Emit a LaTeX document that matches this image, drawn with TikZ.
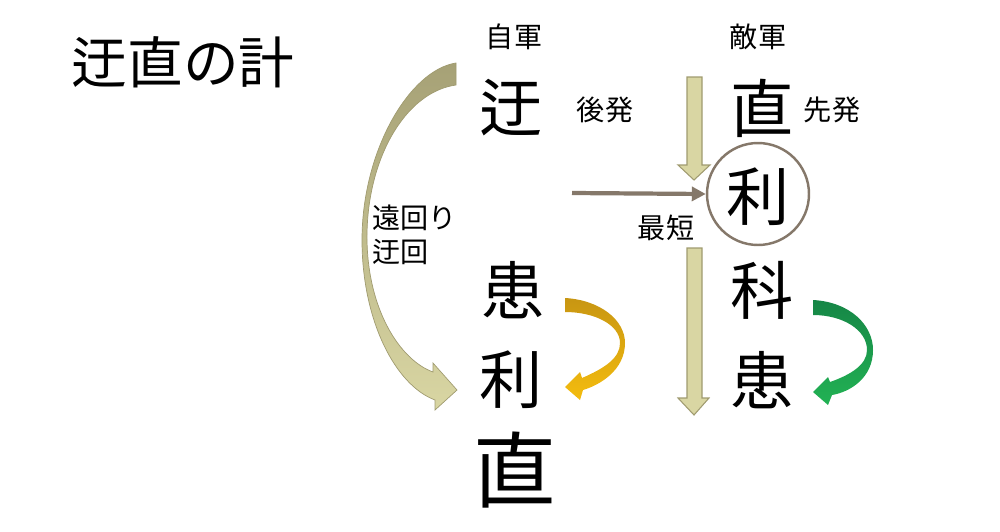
\documentclass[tikz,border=0pt]{standalone}
\usepackage{fontspec}
\setmainfont{Noto Sans CJK JP}
\usepackage{tikz}
\usetikzlibrary{positioning,arrows.meta}
\usepackage{xcolor}

\definecolor{khaki}{RGB}{217,214,163}
\definecolor{khakidark}{RGB}{160,155,112}
\definecolor{khakideep}{RGB}{166,161,118}
\definecolor{taupe}{RGB}{133,120,106}
\definecolor{goldtop}{RGB}{200,150,18}
\definecolor{goldbot}{RGB}{244,188,14}
\definecolor{greentop}{RGB}{22,134,70}
\definecolor{greenbot}{RGB}{34,178,84}

\begin{document}
\begin{tikzpicture}[
  x=0.02cm, y=-0.02cm,
  every node/.style={inner sep=0pt},
  tag/.style={font=\fontsize{16}{19.3}\selectfont},
  kanji/.style={font=\fontsize{36}{40}\selectfont},
  block/.style={fill=khaki, draw=khakidark, line width=0.6pt}
]
  \useasboundingbox (0,0) rectangle (1000,531);

  \node[font=\fontsize{31.7}{36}\selectfont] (title) at (183,62) {迂直の計};

  \node[tag]   (own)    at (514,37)  {自軍};
  \node[tag]   (enemy)  at (758,37)  {敵軍};
  \node[kanji] (own1)   at (511,108) {迂};
  \node[tag]   (late)   at (605,110) {後発};
  \node[kanji] (enemy1) at (762,108) {直};
  \node[tag]   (early)  at (832,110) {先発};
  \node[kanji] (lure)   at (758,197) {利};
  \node[circle, draw=taupe, line width=1.4pt, minimum size=2.04cm] (ring) at (758,194) {};
  \node[tag]   (short)  at (666,228) {最短};
  \node[tag, anchor=west, align=left] (detour) at (372,235) {遠回り\\迂回};
  \node[kanji] (own2)   at (513,290) {患};
  \node[kanji] (own3)   at (511,380) {利};
  \node[font=\fontsize{47}{52}\selectfont] (own4) at (515,470) {直};
  \node[kanji] (enemy3) at (762,290) {科};
  \node[kanji] (enemy4) at (762,380) {患};

  \coordinate (start) at (572,193);
  \draw[taupe, line width=2.4pt, -{Triangle[length=0.28cm,width=0.28cm]}] (start) -- (ring.west);

  \path[block] (687,77) -- (702,77) -- (702,165) -- (710,165) -- (694,180)
    -- (678,165) -- (687,165) -- cycle;
  \path[block] (687,248) -- (702,248) -- (702,398) -- (709,398) -- (694,415)
    -- (678,398) -- (687,398) -- cycle;

  \path[draw=khakidark, line width=0.4pt, top color=khakideep, bottom color=khaki]
    (456,63) .. controls (410,70) and (362,150) .. (362,240)
    .. controls (362,320) and (395,385) .. (435,400)
    -- (435,410) -- (457,390) -- (433,363) -- (433,372)
    .. controls (400,360) and (368,310) .. (367,240)
    .. controls (366,160) and (405,92) .. (456,85) -- cycle;

  \path[top color=goldtop, bottom color=goldbot]
    (565,298) .. controls (600,300) and (625,320) .. (625,343)
    .. controls (625,370) and (600,385) .. (583,390)
    -- (580,400) -- (565,387) -- (580,372) -- (582,378)
    .. controls (605,368) and (620,358) .. (620,343)
    .. controls (620,325) and (595,312) .. (565,312) -- cycle;

  \path[top color=greentop, bottom color=greenbot]
    (813,300) .. controls (850,302) and (873,325) .. (873,350)
    .. controls (873,378) and (850,392) .. (832,395)
    -- (828,405) -- (813,392) -- (828,377) -- (830,382)
    .. controls (850,375) and (867,365) .. (867,350)
    .. controls (867,330) and (843,315) .. (813,315) -- cycle;
\end{tikzpicture}
\end{document}
